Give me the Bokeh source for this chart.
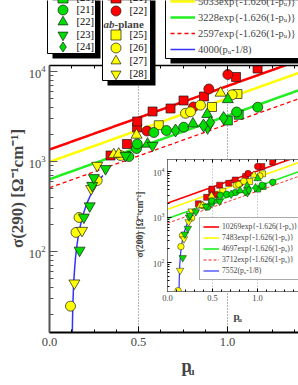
import numpy as np
from bokeh.plotting import figure
from bokeh.models import (Range1d, LinearAxis, SingleIntervalTicker, PrintfTickFormatter,
                          LogTicker, Legend, LegendItem, BoxAnnotation, Label, Span)
from bokeh.embed import file_html
from bokeh.resources import INLINE

# ---------------- main panel data : sigma(290) vs p_u ----------------
main_red_sq_p = [0.343, 0.435, 0.492, 0.493, 0.579, 0.680, 0.753, 0.868, 1.048, 1.169]
main_red_sq_s = [1166, 1564, 2387, 2783, 3594, 3880, 4762, 5275, 8690, 10800]
main_red_ci_p = [0.548, 0.809, 0.895, 1.002]
main_red_ci_s = [2182, 4033, 6393, 9260]

main_yel_sq_p = [0.614, 0.913, 1.056]
main_yel_sq_s = [2530, 4033, 5623]
main_yel_ci_p = [0.118, 0.149, 0.166, 0.268, 0.399, 0.764, 0.792, 0.848, 1.026]
main_yel_ci_s = [24.7, 163, 239, 615, 1166, 3434, 3562, 4225, 5508]
main_yel_up_p = [0.361, 0.389, 0.489, 0.961]
main_yel_up_s = [1196, 1211, 1969, 5768]
main_yel_dn_p = [0.140, 0.183, 0.234, 0.268]
main_yel_dn_s = [44.5, 171, 498, 903]

main_grn_sq_p = [1.002, 1.063]
main_grn_sq_s = [2855, 3304]
main_grn_ci_p = [0.446, 0.489, 0.493, 0.586, 0.657, 0.754, 1.051, 1.170]
main_grn_ci_s = [1136, 1395, 1565, 2100, 2210, 2404, 3548, 4010]
main_grn_up_p = [0.551, 0.806, 0.886, 1.002]
main_grn_up_s = [1565, 2624, 3342, 4886]
main_grn_dn_p = [0.169, 0.193, 0.226, 0.240, 0.249, 0.315, 0.427, 0.579, 0.888]
main_grn_dn_s = [103, 240, 320, 541, 659, 830, 1166, 1506, 2355]
main_grn_di_p = [0.708, 0.865, 0.904, 0.978]
main_grn_di_s = [2210, 2512, 2712, 3041]

# ---------------- inset data : sigma(200) vs p_u ----------------
ins_red_sq_p = [0.343, 0.435, 0.492, 0.493, 0.579, 0.680, 0.753, 0.868, 1.048, 1.169]
ins_red_sq_s = [1950, 2700, 3500, 4100, 5000, 5500, 6500, 7800, 12900, 16200]
ins_red_ci_p = [0.548, 0.809, 0.895, 1.002]
ins_red_ci_s = [3100, 5500, 9000, 12900]

ins_yel_sq_p = [0.614, 0.913, 1.056]
ins_yel_sq_s = [3700, 6000, 8900]
ins_yel_ci_p = [0.118, 0.149, 0.166, 0.268, 0.399, 0.764, 0.792, 0.848, 1.026]
ins_yel_ci_s = [24, 224, 390, 950, 1750, 5000, 5200, 6100, 8000]
ins_yel_up_p = [0.361, 0.389, 0.489, 0.961]
ins_yel_up_s = [1750, 1800, 2900, 8300]
ins_yel_dn_p = [0.140, 0.183, 0.234, 0.268]
ins_yel_dn_s = [67, 330, 780, 1350]

ins_grn_sq_p = [1.002, 1.063]
ins_grn_sq_s = [4100, 4700]
ins_grn_ci_p = [0.446, 0.489, 0.493, 0.586, 0.657, 0.754, 1.051, 1.170]
ins_grn_ci_s = [1650, 2000, 2250, 3000, 3150, 3450, 5000, 5800]
ins_grn_up_p = [0.551, 0.806, 0.886, 1.002]
ins_grn_up_s = [2250, 3800, 4800, 7000]
ins_grn_dn_p = [0.169, 0.193, 0.226, 0.240, 0.249, 0.315, 0.427, 0.579, 0.888]
ins_grn_dn_s = [127, 420, 560, 990, 1100, 1300, 1700, 2200, 3400]
ins_grn_di_p = [0.708, 0.865, 0.904, 0.978]
ins_grn_di_s = [3150, 3600, 3900, 4400]

# ---------------- fit curves (from legend formulas) ----------------
fit_rate = 1.626
p_zero = 1 / 8
main_exp_amps = [6900, 5033, 3228, 2597]
main_lin_amp = 4000
ins_exp_amps = [10269, 7483, 4697, 3712]
ins_lin_amp = 7552

RED, YEL, GRN, BLU = "#ff0000", "#ffff00", "#00dd00", "#3333ff"
LINE_GRN = "#22ee22"
EDGE = "#1a1a1a"
SERIF = "Liberation Serif"
PAGE_H = 377

# ---------------- main figure ----------------
FL, FR, FT, FB = 49, 298, 65, 332          # frame edges on the page (px)
UNIT = 178.0
DEC = 90.0
x_end = (FR - FL) / UNIT
y_top = 10 ** (3 + (161 - FT) / DEC)
y_bot = 10 ** (3 - (FB - 161) / DEC)

p = figure(width=298, height=PAGE_H, output_backend="svg", toolbar_location=None,
           x_range=Range1d(0, x_end), y_range=Range1d(y_bot, y_top), y_axis_type="log",
           min_border_left=FL, min_border_right=0, min_border_top=FT, min_border_bottom=PAGE_H - FB)
p.outline_line_color = None
p.xgrid.visible = False
p.ygrid.visible = False
p.background_fill_color = "white"
p.border_fill_color = "white"

xa = p.xaxis[0]
xa.ticker = SingleIntervalTicker(interval=0.5, num_minor_ticks=4)
xa.formatter = PrintfTickFormatter(format="%.1f")
xa.axis_line_width = 2
xa.axis_line_color = "black"
xa.major_tick_in, xa.major_tick_out = 6, 0
xa.minor_tick_in, xa.minor_tick_out = 3, 0
xa.major_label_text_font = SERIF
xa.major_label_text_font_size = "12.5px"
xa.major_label_standoff = 5

top_ax = LinearAxis(ticker=SingleIntervalTicker(interval=0.5, num_minor_ticks=4),
                    major_label_text_font_size="0px", major_label_text_alpha=0,
                    major_label_standoff=0, axis_line_width=1.5, axis_line_color="black",
                    major_tick_in=6, major_tick_out=0, minor_tick_in=3, minor_tick_out=0)
p.add_layout(top_ax, "above")

ya = p.yaxis[0]
ya.ticker = LogTicker(mantissas=[1], num_minor_ticks=10)
ya.axis_line_width = 2
ya.axis_line_color = "#555555"
ya.major_tick_line_color = "#555555"
ya.minor_tick_line_color = "#555555"
ya.major_tick_in, ya.major_tick_out = 8, 0
ya.minor_tick_in, ya.minor_tick_out = 4, 0
ya.major_label_text_font = SERIF
ya.major_label_text_font_size = "12.5px"
ya.major_label_standoff = 4

for loc in (0.5, 1.0):
    p.add_layout(Span(location=loc, dimension="height", line_color="#666666",
                      line_dash="1 2", line_width=1, level="underlay"))

px = np.linspace(0, 1.45, 146)
line_styles = [(RED, 2.5, "solid"), (YEL, 2.5, "solid"), (LINE_GRN, 2.5, "solid"), (RED, 1.3, "4 3")]
for amp, (c, w, d) in zip(main_exp_amps, line_styles):
    p.line(px, amp * np.exp(-fit_rate * (1 - px)), line_color=c, line_width=w, line_dash=d)
pb = np.linspace(0.1281, 0.30, 150)
p.line(pb, main_lin_amp * (pb - p_zero), line_color=BLU, line_width=1.5)

series = [
    ("[21]", "square", RED, main_red_sq_p, main_red_sq_s, ins_red_sq_p, ins_red_sq_s),
    ("[22]", "circle", RED, main_red_ci_p, main_red_ci_s, ins_red_ci_p, ins_red_ci_s),
    ("[25]", "square", YEL, main_yel_sq_p, main_yel_sq_s, ins_yel_sq_p, ins_yel_sq_s),
    ("[26]", "circle", YEL, main_yel_ci_p, main_yel_ci_s, ins_yel_ci_p, ins_yel_ci_s),
    ("[27]", "triangle", YEL, main_yel_up_p, main_yel_up_s, ins_yel_up_p, ins_yel_up_s),
    ("[28]", "inverted_triangle", YEL, main_yel_dn_p, main_yel_dn_s, ins_yel_dn_p, ins_yel_dn_s),
    ("[20]", "square", GRN, main_grn_sq_p, main_grn_sq_s, ins_grn_sq_p, ins_grn_sq_s),
    ("[21]", "circle", GRN, main_grn_ci_p, main_grn_ci_s, ins_grn_ci_p, ins_grn_ci_s),
    ("[22]", "triangle", GRN, main_grn_up_p, main_grn_up_s, ins_grn_up_p, ins_grn_up_s),
    ("[23]", "inverted_triangle", GRN, main_grn_dn_p, main_grn_dn_s, ins_grn_dn_p, ins_grn_dn_s),
    ("[24]", "diamond", GRN, main_grn_di_p, main_grn_di_s, ins_grn_di_p, ins_grn_di_s),
]
main_size = {"square": 9, "circle": 10, "triangle": 11, "inverted_triangle": 11, "diamond": 13}
ins_size = {"square": 6, "circle": 6.5, "triangle": 7.5, "inverted_triangle": 7.5, "diamond": 8.5}

for lab, mk, col, mp, ms, ip, isv in series:
    p.scatter(mp, ms, marker=mk, size=main_size[mk], fill_color=col, line_color=EDGE, line_width=0.7)

# ---------------- inset figure ----------------
QX, QY, QH = 130, 151, 174               # inset canvas position / height on the page
IFL, IFR, IFT, IFB = 167, 298, 159, 291  # inset frame edges (page px)
IUNIT, IDEC, I3 = 90.0, 45.5, 216.5
q = figure(width=IFR - QX, height=QH, output_backend="svg", toolbar_location=None,
           x_range=Range1d(0, (IFR - IFL) / IUNIT),
           y_range=Range1d(10 ** (3 - (IFB - I3) / IDEC), 10 ** (3 + (I3 - IFT) / IDEC)),
           y_axis_type="log",
           min_border_left=IFL - QX, min_border_right=0, min_border_top=IFT - QY,
           min_border_bottom=QY + QH - IFB)
q.outline_line_color = None
q.border_fill_color = None
q.background_fill_color = "white"
q.xgrid.visible = False
q.ygrid.visible = False

qx = q.xaxis[0]
qx.ticker = SingleIntervalTicker(interval=0.5, num_minor_ticks=5)
qx.formatter = PrintfTickFormatter(format="%.1f")
qx.axis_line_color = "#777777"
qx.axis_line_width = 1
qx.major_tick_in, qx.major_tick_out = 3, 0
qx.minor_tick_in, qx.minor_tick_out = 2, 0
qx.major_label_text_font = SERIF
qx.major_label_text_font_size = "8.5px"
qx.major_label_standoff = 3
qtop = LinearAxis(ticker=SingleIntervalTicker(interval=0.5, num_minor_ticks=5),
                  major_label_text_font_size="0px", major_label_text_alpha=0, major_label_standoff=0,
                  axis_line_color="#777777", major_tick_in=3, major_tick_out=0,
                  minor_tick_in=2, minor_tick_out=0)
q.add_layout(qtop, "above")
qy = q.yaxis[0]
qy.ticker = LogTicker(mantissas=[1], num_minor_ticks=10)
qy.axis_line_color = "#777777"
qy.major_tick_in, qy.major_tick_out = 4, 0
qy.minor_tick_in, qy.minor_tick_out = 2, 0
qy.major_label_text_font = SERIF
qy.major_label_text_font_size = "8.5px"
qy.major_label_standoff = 3

for loc in (0.5, 1.0):
    q.add_layout(Span(location=loc, dimension="height", line_color="#aaaaaa",
                      line_dash="1 2", line_width=1, level="underlay"))

ins_line_styles = [(RED, 1.6, "solid"), (YEL, 1.6, "solid"), (LINE_GRN, 1.6, "solid"), (RED, 0.9, "3 2")]
ins_lines = []
for amp, (c, w, d) in zip(ins_exp_amps, ins_line_styles):
    ins_lines.append(q.line(px, amp * np.exp(-fit_rate * (1 - px)), line_color=c, line_width=w, line_dash=d))
qb = np.linspace(0.1280, 0.28, 150)
ins_blue = q.line(qb, ins_lin_amp * (qb - p_zero), line_color=BLU, line_width=1.2)

for lab, mk, col, mp, ms, ip, isv in series:
    q.scatter(ip, isv, marker=mk, size=ins_size[mk], fill_color=col, line_color=EDGE, line_width=0.5)

ins_labels = [f"{a}exp{{-1.626(1-pᵤ)}}" for a in ins_exp_amps]
qitems = [LegendItem(label=l, renderers=[r]) for l, r in zip(ins_labels, ins_lines)]
qitems.append(LegendItem(label=f"{ins_lin_amp}(pᵤ-1/8)", renderers=[ins_blue]))
q.add_layout(Legend(items=qitems, location=(199 - IFL, IFB - 280), padding=3, margin=0, spacing=0,
                    glyph_width=16, glyph_height=11, label_height=11, label_standoff=3,
                    background_fill_color="white", background_fill_alpha=1,
                    border_line_color="#555555", border_line_width=1,
                    label_text_font=SERIF, label_text_font_size="7.7px"))

# ---------------- overlay (legends, titles) covering the whole page ----------------
# its ranges lie away from the data, so its renderers only lend their style to legend entries
o = figure(width=298, height=PAGE_H, output_backend="svg", toolbar_location=None, tools="",
           x_range=Range1d(-100, -99), y_range=Range1d(-100, -99),
           x_axis_location=None, y_axis_location=None,
           min_border_left=0, min_border_right=0, min_border_top=0, min_border_bottom=0)
o.outline_line_color = None
o.background_fill_color = None
o.border_fill_color = None
o.xgrid.visible = False
o.ygrid.visible = False


def sbox(X0, X1, Y0, Y1, fill, line):
    o.add_layout(BoxAnnotation(left=X0, right=X1, top=PAGE_H - Y0, bottom=PAGE_H - Y1,
                               left_units="screen", right_units="screen",
                               top_units="screen", bottom_units="screen",
                               fill_color=fill, fill_alpha=1,
                               line_color=line if line else "black", line_alpha=1 if line else 0,
                               line_width=1, level="annotation"))


# legend boxes (shadow + white box)
sbox(52, 100, -40, 58, "black", None)
sbox(47, 95, -40, 53, "white", "black")
sbox(107, 155, -40, 85, "black", None)
sbox(102, 150, -40, 80, "white", "black")
sbox(170, 340, -60, 63, "black", None)
sbox(165, 335, -60, 58, "white", "black")

keys = {}
for lab, mk, col, mp, ms, ip, isv in series:
    keys[(lab, col)] = o.scatter(mp, ms, marker=mk, size=main_size[mk], fill_color=col,
                                 line_color=EDGE, line_width=0.7)
line_keys = [o.line(px, amp * np.exp(-fit_rate * (1 - px)), line_color=c, line_width=w, line_dash=d)
             for amp, (c, w, d) in zip(main_exp_amps, line_styles)]
blue_key = o.line(pb, main_lin_amp * (pb - p_zero), line_color=BLU, line_width=1.5)

GLYPH = 25  # legend glyph box; markers are drawn at 0.4 of it


def entry(label, renderer, glyph_left, center_y):
    o.add_layout(Legend(items=[LegendItem(label=label, renderers=[renderer])],
                        location=(glyph_left, PAGE_H - (center_y + GLYPH / 2)),
                        padding=0, margin=0, spacing=0, glyph_width=GLYPH, glyph_height=GLYPH,
                        label_height=12, label_standoff=2,
                        background_fill_alpha=0, border_line_alpha=0,
                        label_text_font=SERIF, label_text_font_size="10.5px", label_text_color="black"))


for l, cy in zip(["[20]", "[21]", "[22]", "[23]", "[24]"], [-3, 9, 21.5, 34, 46]):
    entry(l, keys[(l, GRN)], 49.5, cy)
for l, cy in zip(["[21]", "[22]"], [-3, 10]):
    entry(l, keys[(l, RED)], 102.5, cy)
for l, cy in zip(["[25]", "[26]", "[27]", "[28]"], [34, 47, 60, 73]):
    entry(l, keys[(l, YEL)], 102.5, cy)

main_line_labels = [f"{a}exp{{-1.626(1-pᵤ)}}" for a in main_exp_amps]
legC = [LegendItem(label=l, renderers=[r]) for l, r in zip(main_line_labels, line_keys)]
legC.append(LegendItem(label=f"{main_lin_amp}(pᵤ-1/8)", renderers=[blue_key]))
o.add_layout(Legend(items=legC, location=(170, PAGE_H - 57), padding=0, margin=0, spacing=0,
                    glyph_width=25, glyph_height=16, label_height=16, label_standoff=3,
                    background_fill_alpha=0, border_line_alpha=0,
                    label_text_font=SERIF, label_text_font_size="10.5px"))


def txt(X, Y, s, size, style="bold", align="left", baseline="alphabetic", angle=0.0):
    o.add_layout(Label(x=X, y=PAGE_H - Y, x_units="screen", y_units="screen", text=s, angle=angle,
                       text_font=SERIF, text_font_style=style, text_font_size=size,
                       text_align=align, text_baseline=baseline))


txt(103, 23, "ab", "11px", "bold italic", baseline="middle")
txt(114, 23, "-plane", "11px", "bold", baseline="middle")
# main axis titles
txt(17, 188, "σ(290) [Ω⁻¹cm⁻¹]", "17px", align="center", baseline="middle", angle=np.pi / 2)
txt(181, 365, "p", "18px")
txt(188, 370, "u", "11px")
# inset axis titles
txt(139, 224, "σ(200) [Ω⁻¹cm⁻¹]", "9.5px", align="center", baseline="middle", angle=np.pi / 2)
txt(233, 315, "p", "11px")
txt(237.5, 319, "u", "7px")

# ---------------- page: three absolutely placed roots, stacked ----------------
p.styles = {"position": "absolute", "left": "0px", "top": "0px"}
q.styles = {"position": "absolute", "left": f"{QX}px", "top": f"{QY}px"}
o.styles = {"position": "absolute", "left": "0px", "top": "0px"}

open("out.html", "w").write(file_html([p, q, o], INLINE))
